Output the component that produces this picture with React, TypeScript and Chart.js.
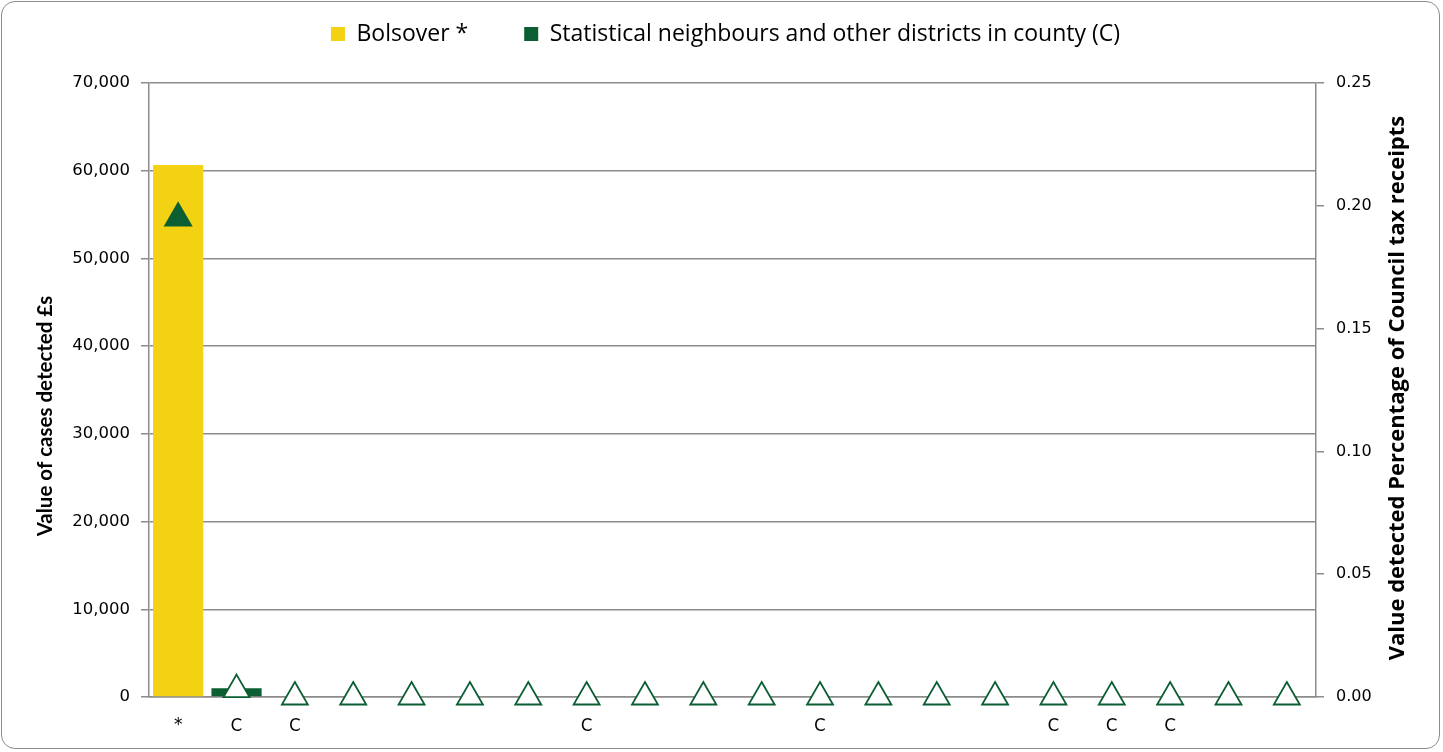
import React, { useEffect, useRef } from "react";
import { Chart, registerables } from "chart.js";

Chart.register(...registerables);

const categories: string[] = ["*", "C", "C", "", "", "", "", "C", "", "", "", "C", "", "", "", "C", "C", "C", "", ""];
const bolsoverValues: (number | null)[] = [60650, null, null, null, null, null, null, null, null, null, null, null, null, null, null, null, null, null, null, null];
const neighbourValues: (number | null)[] = [null, 1000, 0, 0, 0, 0, 0, 0, 0, 0, 0, 0, 0, 0, 0, 0, 0, 0, 0, 0];
const percentValues: number[] = [0.195, 0.003, 0, 0, 0, 0, 0, 0, 0, 0, 0, 0, 0, 0, 0, 0, 0, 0, 0, 0];
const leftTicks: number[] = [0, 10000, 20000, 30000, 40000, 50000, 60000, 70000];
const rightTicks: number[] = [0, 0.05, 0.1, 0.15, 0.2, 0.25];
const leftTitle = "Value of cases detected £s";
const rightTitle = "Value detected Percentage of Council tax receipts";

const YELLOW = "#F2D213";
const GREEN = "#0B5F32";
const GRID = "#8c8c8c";
const LEGEND_PAD = 56;
const LEGEND_FONT = 23;

const layoutTweak = {
  id: "layoutTweak",
  afterInit(chart: any) {
    const lg = chart.legend;
    if (lg && !lg.__patched) {
      const orig = lg.fit;
      lg.fit = function () {
        orig.call(this);
        this.height -= 6;
      };
      lg.__patched = true;
    }
  },
  afterLayout(chart: any) {
    const lg = chart.legend;
    if (!lg) return;
    const dy = 34 - (lg.top + LEGEND_PAD + LEGEND_FONT / 2);
    lg.top += dy;
    lg.bottom += dy;
    lg.left += 4;
    lg.right += 4;
  },
  afterDraw(chart: any) {
    const ctx = chart.ctx;
    ctx.save();
    ctx.fillStyle = "#000";
    ctx.textAlign = "center";
    ctx.textBaseline = "middle";
    ctx.font = "bold 20.5px Lato";
    ctx.translate(45, 416);
    ctx.rotate(-Math.PI / 2);
    ctx.fillText(leftTitle, 0, 0);
    ctx.restore();
    ctx.save();
    ctx.fillStyle = "#000";
    ctx.textAlign = "center";
    ctx.textBaseline = "middle";
    ctx.font = "bold 22px 'Open Sans'";
    ctx.translate(1398, 388);
    ctx.rotate(-Math.PI / 2);
    ctx.fillText(rightTitle, 0, 0);
    ctx.restore();
  },
};

export default function App() {
  const canvasRef = useRef<HTMLCanvasElement | null>(null);

  useEffect(() => {
    document.body.style.margin = "0";
    const ctx = canvasRef.current!.getContext("2d")!;
    const chart = new Chart(ctx, {
      type: "bar",
      data: {
        labels: categories,
        datasets: [
          {
            type: "line",
            label: "pct",
            data: percentValues,
            yAxisID: "y1",
            showLine: false,
            clip: false,
            pointStyle: "triangle",
            pointRadius: 15,
            pointBorderWidth: 1.8,
            pointBorderColor: GREEN,
            pointBackgroundColor: percentValues.map((_, i) => (i === 0 ? GREEN : "#ffffff")),
            borderColor: GREEN,
            backgroundColor: GREEN,
            order: 0,
          } as any,
          {
            label: "Bolsover *",
            data: bolsoverValues,
            backgroundColor: YELLOW,
            yAxisID: "y",
            categoryPercentage: 1,
            barPercentage: 0.86,
            order: 1,
          },
          {
            label: "Statistical neighbours and other districts in county (C)",
            data: neighbourValues,
            backgroundColor: GREEN,
            yAxisID: "y",
            categoryPercentage: 1,
            barPercentage: 0.86,
            order: 1,
          },
        ],
      },
      plugins: [layoutTweak],
      options: {
        responsive: false,
        animation: false,
        layout: { padding: { top: 0, left: 0, right: 0, bottom: 0 } },
        plugins: {
          tooltip: { enabled: false },
          legend: {
            position: "top",
            labels: {
              filter: (item: any) => item.text !== "pct",
              boxWidth: 14,
              boxHeight: 14,
              padding: LEGEND_PAD,
              color: "#000",
              font: { family: "Open Sans", size: LEGEND_FONT },
            },
          },
        },
        scales: {
          x: {
            stacked: true,
            grid: { display: false, drawTicks: false },
            border: { display: true, color: GRID, width: 1.5 },
            ticks: {
              color: "#000",
              font: (c: any) =>
                c.tick && c.tick.label === "*"
                  ? { family: "DejaVu Sans", size: 17 }
                  : { family: "Lato", size: 17 },
              padding: 18,
              maxRotation: 0,
              autoSkip: false,
            },
            afterFit: (s: any) => {
              s.height = 55;
            },
          },
          y: {
            position: "left",
            min: 0,
            max: 70000,
            afterBuildTicks: (s: any) => {
              s.ticks = leftTicks.map((v) => ({ value: v }));
            },
            grid: { color: GRID, lineWidth: 1.5, tickLength: 8, drawTicks: true },
            border: { display: true, color: GRID, width: 1.5 },
            ticks: {
              color: "#000",
              font: { family: "DejaVu Sans", size: 16.5 },
              padding: 11,
              callback: (v: any) => Number(v).toLocaleString("en-GB"),
            },
            afterFit: (s: any) => {
              s.width = 149;
            },
          },
          y1: {
            position: "right",
            min: 0,
            max: 0.25,
            afterBuildTicks: (s: any) => {
              s.ticks = rightTicks.map((v) => ({ value: v }));
            },
            grid: { drawOnChartArea: false, color: GRID, lineWidth: 1.5, tickLength: 8 },
            border: { display: true, color: GRID, width: 1.5 },
            ticks: {
              color: "#000",
              font: { family: "DejaVu Sans", size: 16 },
              padding: 12,
              callback: (v: any) => Number(v).toFixed(2),
            },
            afterFit: (s: any) => {
              s.width = 127;
            },
          },
        },
      },
    });
    return () => chart.destroy();
  }, []);

  return (
    <div style={{ position: "absolute", left: 0, top: 0, width: 1443, height: 752 }}>
      <div
        style={{
          position: "absolute",
          left: 1,
          top: 1,
          width: 1439,
          height: 748,
          border: "1.5px solid #8c8c8c",
          borderRadius: 14,
          boxSizing: "border-box",
        }}
      />
      <canvas ref={canvasRef} width={1443} height={752} style={{ position: "absolute", left: 0, top: 0 }} />
    </div>
  );
}
